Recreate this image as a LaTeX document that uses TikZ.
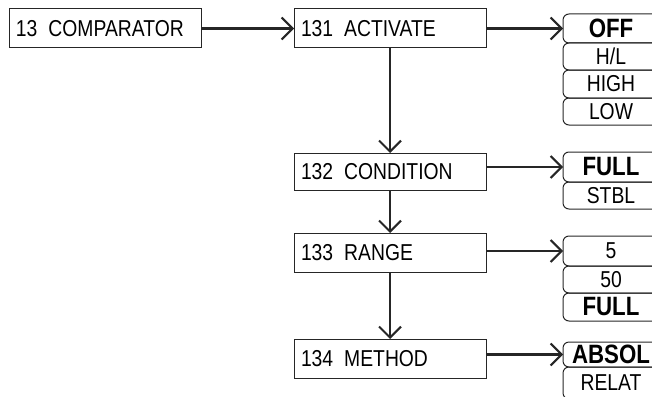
\documentclass[tikz,border=0pt]{standalone}
\usepackage{fontspec}
\setmainfont[FakeStretch=0.84]{Liberation Sans}
\usetikzlibrary{arrows.meta}
\newcommand{\gp}{\hspace{11pt}}
\begin{document}
\begin{tikzpicture}[x=1pt,y=-1pt,
  mainbox/.style={draw=black!85, line width=1pt, anchor=north west, inner xsep=7pt, inner ysep=0pt,
    text width=178pt, align=left, minimum height=39pt, outer sep=0pt,
    font=\fontsize{23}{26}\selectfont},
  opt/.style={anchor=north west, minimum width=96pt, inner sep=0pt, outer sep=0pt,
    font=\fontsize{23}{26}\selectfont},
  optb/.style={opt, font=\fontsize{26.5}{28}\selectfont\bfseries},
  frame/.style={draw=black!85, line width=1pt, rounded corners=6pt},
  arr/.style={draw=black!85, line width=2.1pt, -{Straight Barb[length=11pt,width=22pt]}}
]
\useasboundingbox (0,0) rectangle (652,396);
\clip (0,0) rectangle (652,396);

% main boxes
\node[mainbox] (cmp) at (9,9) {13\gp COMPARATOR};
\node[mainbox] (act) at (294,9) {131\gp ACTIVATE};
\node[mainbox, minimum height=37pt] (cond) at (294,153) {132\gp CONDITION};
\node[mainbox] (rng) at (294,233) {133\gp RANGE};
\node[mainbox] (meth) at (294,339) {134\gp METHOD};

% option boxes
\node[optb, minimum height=29pt] (off) at (563,14) {OFF};
\node[opt, minimum height=27pt] (hl) at (563,43) {H/L};
\node[opt, minimum height=28pt] (high) at (563,70) {HIGH};
\node[opt, minimum height=27pt] (low) at (563,98) {LOW};

\node[optb, minimum height=30pt] (full1) at (563,152) {FULL};
\node[opt, minimum height=27pt] (stbl) at (563,182) {STBL};

\node[opt, minimum height=30pt] (five) at (563,236) {5};
\node[opt, minimum height=27pt] (fifty) at (563,266) {50};
\node[optb, minimum height=28pt] (full2) at (563,293) {FULL};

\node[optb, minimum height=25pt] (absol) at (563,342) {ABSOL};
\node[opt, minimum height=32pt] (relat) at (563,367) {RELAT};

\foreach \o in {off,hl,high,low,full1,stbl,five,fifty,full2,absol,relat}{
  \draw[frame] ([xshift=20pt]\o.north east) -- (\o.north west) -- (\o.south west) -- ([xshift=20pt]\o.south east);
}

% connectors
\draw[arr] (cmp.east) -- (act.west);
\draw[arr] (act.east) -- (off.west);
\draw[arr] (act.south) -- (cond.north);
\draw[arr] (cond.south) -- (rng.north);
\draw[arr] (rng.south) -- (meth.north);
\draw[arr] (cond.east |- full1.west) -- (full1.west);
\draw[arr] (rng.east |- five.west) -- (five.west);
\draw[arr] (meth.east |- absol.west) -- (absol.west);
\end{tikzpicture}
\end{document}
